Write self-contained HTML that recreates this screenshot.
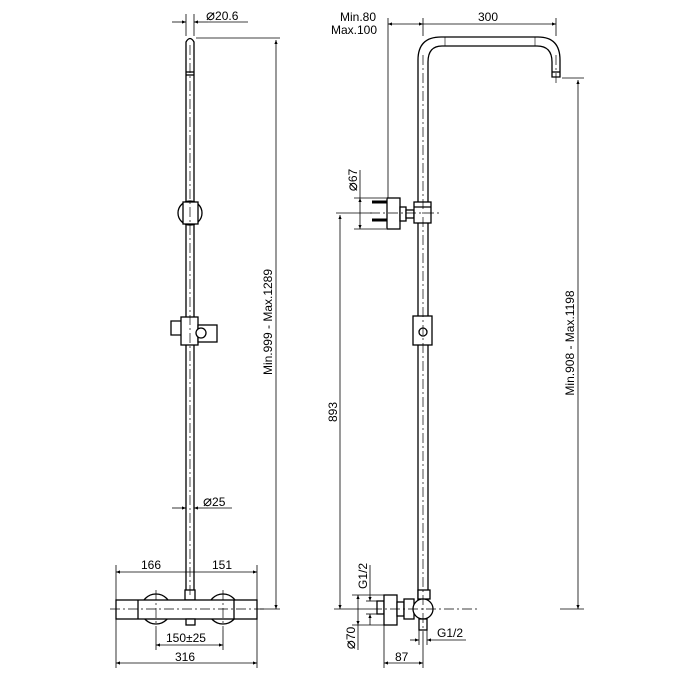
<!DOCTYPE html>
<html><head><meta charset="utf-8"><style>
html,body{margin:0;padding:0;background:#fff;}
svg{display:block;}
text{font-family:"Liberation Sans",sans-serif;font-size:12px;fill:#000;}
.d{font-size:15px;}
</style></head><body>
<svg width="700" height="700" viewBox="0 0 700 700" xmlns="http://www.w3.org/2000/svg">
<defs>
<marker id="a" viewBox="0 0 10 10" refX="10" refY="5" markerWidth="7" markerHeight="4" orient="auto-start-reverse" markerUnits="userSpaceOnUse"><path d="M0,1 L10,5 L0,9 Z" fill="#000"/></marker>
</defs>
<g fill="none" stroke="#000" stroke-width="1.3">
<path d="M186,600 L186,42 Q190,35 194,42 L194,600"/>
<line x1="186" y1="72" x2="194" y2="72"/><line x1="186" y1="75" x2="194" y2="75"/>
<circle cx="190" cy="213" r="12"/>
<rect x="183" y="202" width="15" height="22" fill="#fff"/>
<rect x="181" y="317" width="17" height="28" fill="#fff"/>
<path d="M181,321 L171,321 L171,335 L181,335"/>
<rect x="198" y="325" width="19" height="17" fill="#fff"/>
<circle cx="201" cy="333" r="5" fill="#fff"/>
<rect x="185" y="590" width="10" height="10" fill="#fff"/>
<circle cx="156" cy="609" r="15"/>
<circle cx="223" cy="609" r="15"/>
<rect x="116" y="600" width="141" height="19" fill="#fff"/>
<line x1="138" y1="600" x2="138" y2="619"/>
<line x1="234" y1="600" x2="234" y2="619"/>
<rect x="186" y="619" width="9" height="6" fill="#fff"/>
<path d="M418,600 L418,60 Q418,37 441,37 L538,37 Q560,37 560,60 L560,77 L552,77 L552,62 Q552,46 537,46 L442,46 Q428,46 428,62 L428,600"/>
<line x1="552" y1="72" x2="560" y2="72"/>
<line x1="445" y1="37" x2="445" y2="46" stroke-width="0.6"/>
<line x1="535" y1="37" x2="535" y2="46" stroke-width="0.6"/>
<rect x="387" y="198" width="13" height="31" fill="#fff"/>
<path d="M372,202 L387,202 M372,220 L387,220" stroke-width="3"/>
<rect x="400" y="207" width="6" height="14" fill="#fff"/>
<rect x="406" y="210" width="8" height="8" fill="#fff"/>
<rect x="414" y="202" width="17" height="21" fill="#fff"/>
<line x1="414" y1="207" x2="431" y2="207"/>
<rect x="413" y="316" width="19" height="29" fill="#fff"/>
<circle cx="423" cy="332" r="4"/>
<rect x="418" y="590" width="12" height="9" fill="#fff"/>
<rect x="377" y="601" width="7" height="13" fill="#fff"/>
<rect x="384" y="595" width="13" height="30" fill="#fff"/>
<rect x="397" y="602" width="7" height="14" fill="#fff"/>
<rect x="404" y="599" width="10" height="20" fill="#fff"/>
<circle cx="423" cy="609" r="10" fill="#fff"/>
<rect x="419" y="619" width="8" height="11" fill="#fff"/>
</g>
<g stroke="#000" stroke-width="0.7" stroke-dasharray="10,3,2,3" fill="none">
<line x1="190" y1="45" x2="190" y2="598"/>
<line x1="423" y1="55" x2="423" y2="632"/>
<line x1="556" y1="55" x2="556" y2="85"/>
<line x1="110" y1="609" x2="265" y2="609"/>
<line x1="156" y1="590" x2="156" y2="630"/>
<line x1="223" y1="590" x2="223" y2="630"/>
<line x1="370" y1="213" x2="440" y2="213"/>
<line x1="372" y1="609" x2="480" y2="609"/>
</g>
<g stroke="#000" stroke-width="0.8" fill="none">
<line x1="186" y1="14" x2="186" y2="36"/><line x1="194" y1="14" x2="194" y2="36"/>
<line x1="172" y1="22" x2="186" y2="22" marker-end="url(#a)"/>
<line x1="208" y1="22" x2="194" y2="22" marker-end="url(#a)"/>
<line x1="208" y1="22" x2="248" y2="22"/>
<line x1="196" y1="38" x2="280" y2="38"/>
<line x1="276" y1="40" x2="276" y2="609" marker-start="url(#a)" marker-end="url(#a)"/>
<line x1="260" y1="609" x2="280" y2="609"/>
<line x1="172" y1="508" x2="186" y2="508" marker-end="url(#a)"/>
<line x1="208" y1="508" x2="194" y2="508" marker-end="url(#a)"/>
<line x1="208" y1="508" x2="232" y2="508"/>
<line x1="116" y1="565" x2="116" y2="668"/><line x1="257" y1="565" x2="257" y2="668"/>
<line x1="116" y1="572" x2="190" y2="572" marker-start="url(#a)"/>
<line x1="190" y1="572" x2="257" y2="572" marker-end="url(#a)"/>
<line x1="156" y1="630" x2="156" y2="650"/><line x1="223" y1="630" x2="223" y2="650"/>
<line x1="156" y1="645" x2="223" y2="645" marker-start="url(#a)" marker-end="url(#a)"/>
<line x1="116" y1="663" x2="257" y2="663" marker-start="url(#a)" marker-end="url(#a)"/>
<line x1="388" y1="18" x2="388" y2="198"/>
<line x1="423" y1="18" x2="423" y2="36"/>
<line x1="556" y1="18" x2="556" y2="36"/>
<line x1="388" y1="24" x2="423" y2="24" marker-start="url(#a)" marker-end="url(#a)"/>
<line x1="423" y1="24" x2="556" y2="24" marker-end="url(#a)"/>
<line x1="562" y1="78" x2="584" y2="78"/>
<line x1="578" y1="80" x2="578" y2="609" marker-start="url(#a)" marker-end="url(#a)"/>
<line x1="560" y1="609" x2="584" y2="609"/>
<line x1="354" y1="198" x2="386" y2="198"/><line x1="354" y1="229" x2="386" y2="229"/>
<line x1="360" y1="198" x2="360" y2="229" marker-start="url(#a)" marker-end="url(#a)"/>
<line x1="360" y1="198" x2="360" y2="170"/>
<line x1="336" y1="213" x2="372" y2="213"/>
<line x1="340" y1="215" x2="340" y2="609" marker-start="url(#a)" marker-end="url(#a)"/>
<line x1="334" y1="609" x2="372" y2="609"/>
<line x1="352" y1="595" x2="384" y2="595"/><line x1="352" y1="625" x2="384" y2="625"/>
<line x1="358" y1="595" x2="358" y2="625" marker-start="url(#a)" marker-end="url(#a)"/>
<line x1="358" y1="625" x2="358" y2="650"/>
<line x1="366" y1="601" x2="377" y2="601"/><line x1="366" y1="614" x2="377" y2="614"/>
<line x1="370" y1="590" x2="370" y2="601" marker-end="url(#a)"/>
<line x1="370" y1="625" x2="370" y2="614" marker-end="url(#a)"/>
<line x1="370" y1="590" x2="370" y2="565"/>
<line x1="419" y1="630" x2="419" y2="645"/><line x1="427" y1="630" x2="427" y2="645"/>
<line x1="410" y1="640" x2="419" y2="640" marker-end="url(#a)"/>
<line x1="445" y1="640" x2="427" y2="640" marker-end="url(#a)"/>
<line x1="445" y1="640" x2="466" y2="640"/>
<line x1="384" y1="625" x2="384" y2="668"/><line x1="423" y1="632" x2="423" y2="668"/>
<line x1="384" y1="663" x2="423" y2="663" marker-start="url(#a)" marker-end="url(#a)"/>
</g>
<text x="206" y="20"><tspan class="d">⌀</tspan>20.6</text>
<text x="203" y="506"><tspan class="d">⌀</tspan>25</text>
<text x="141" y="569">166</text>
<text x="212" y="569">151</text>
<text x="166" y="642">150±25</text>
<text x="175" y="661">316</text>
<text transform="translate(272,322) rotate(-90)" text-anchor="middle">Min.999 - Max.1289</text>
<text x="340" y="21">Min.80</text>
<text x="331" y="34">Max.100</text>
<text x="478" y="21">300</text>
<text transform="translate(574,343) rotate(-90)" text-anchor="middle">Min.908 - Max.1198</text>
<text transform="translate(357,180) rotate(-90)" text-anchor="middle"><tspan class="d">⌀</tspan>67</text>
<text transform="translate(337,412) rotate(-90)" text-anchor="middle">893</text>
<text transform="translate(367,576) rotate(-90)" text-anchor="middle">G1/2</text>
<text transform="translate(355,638) rotate(-90)" text-anchor="middle"><tspan class="d">⌀</tspan>70</text>
<text x="437" y="637">G1/2</text>
<text x="395" y="661">87</text>
</svg>
</body></html>
